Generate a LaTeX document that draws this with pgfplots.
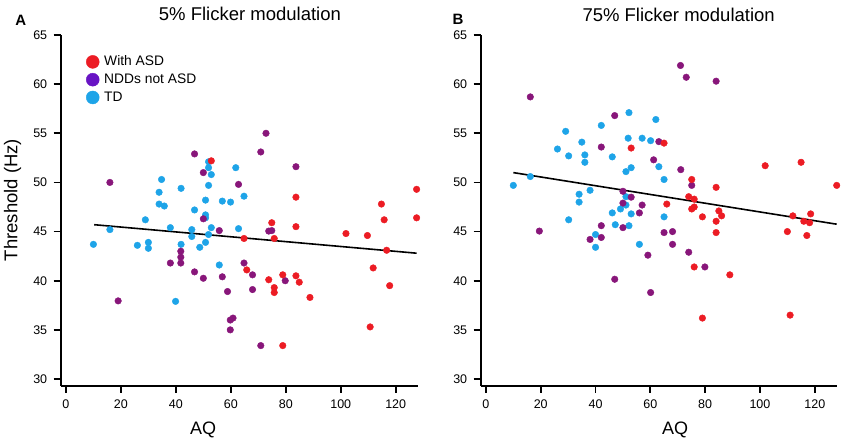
\documentclass[border=0pt]{standalone}
\usepackage{pgfplots}
\pgfplotsset{compat=1.18}
\usepackage{pgfplotstable}
\usepackage{fontspec}
\setmainfont{Liberation Sans}
\definecolor{asd}{RGB}{236,28,36}
\definecolor{ndd}{RGB}{136,22,122}
\definecolor{nddleg}{RGB}{104,20,196}
\definecolor{td}{RGB}{30,164,232}

\pgfplotstableread{
x y
10 43.7
16 45.2
26 43.6
28.9 46.2
30 43.9
30 43.3
33.9 49.0
33.9 47.8
35.8 47.6
34.8 50.3
38 45.4
41.9 49.4
41.9 43.7
39.9 37.9
46.8 47.2
45.8 45.2
45.8 44.5
48.7 43.4
50.8 48.2
50.8 46.7
50.8 46.4
50.8 43.9
51.9 52.1
51.9 51.5
52.9 50.8
51.9 49.7
52.9 45.4
51.9 44.7
55.8 41.6
56.9 48.1
59.9 48.0
61.8 51.5
62.8 45.3
64.8 48.6
}\tdA
\pgfplotstableread{
x y
16 50.0
19 37.95
46.8 52.9
50 51.0
50 46.3
41.8 43.0
41.8 42.4
41.8 41.8
38 41.8
46.8 40.9
50 40.25
55.8 45.1
56.9 40.4
58.8 38.9
59.8 36.0
60.8 36.2
59.8 35.0
62.8 49.8
64.8 41.8
67.9 40.6
67.9 39.1
70.9 53.1
72.8 55.0
73.8 45.05
74.9 45.1
70.9 33.4
79.8 40.0
83.7 51.6
}\nddA
\pgfplotstableread{
x y
52.9 52.2
64.8 44.3
65.8 41.1
74.9 45.9
75.8 44.3
73.8 40.1
75.8 39.3
75.8 38.8
78.9 40.6
78.9 33.4
83.7 48.5
83.7 45.5
83.7 40.5
84.9 39.85
88.8 38.3
101.9 44.8
109.7 44.6
111.8 41.3
110.7 35.3
114.8 47.8
115.8 46.2
116.7 43.1
117.8 39.5
127.6 49.3
127.6 46.4
}\asdA
\pgfplotstableread{
x y
10 49.7
16.2 50.6
26.1 53.4
29.1 55.2
30.2 52.7
30.2 46.2
35 54.1
36.1 52.8
36.1 52.05
34 48.8
34 48.0
38 49.2
42.1 55.8
40 44.7
40 43.4
46.1 52.6
46.1 46.9
47.2 45.7
49.1 47.3
52.2 57.1
51.9 54.5
51.1 51.1
53 51.5
51.1 48.55
51.1 47.7
53 46.8
52.2 45.6
57 54.5
60.1 54.25
56 43.7
62 56.4
63.1 51.6
65 50.3
65 46.5
}\tdB
\pgfplotstableread{
x y
16.2 58.7
19.5 45.05
47 56.8
42.1 53.6
42.1 45.6
42.1 44.4
38 44.2
47 40.15
50 49.1
50 47.9
50 45.4
53 48.5
56 46.9
57 47.7
59.1 42.6
60.1 38.8
61.2 52.3
63.1 54.15
65 44.9
68.1 45.0
68.1 43.7
71 61.9
71.1 51.3
73.1 60.7
74 42.9
75.1 49.7
79.9 41.4
84 60.3
}\nddB
\pgfplotstableread{
x y
53 53.5
65 54.0
66 47.8
75.1 50.3
74 48.55
75.1 47.3
76 47.5
76 48.3
76 41.4
79 46.5
79 36.2
84 49.5
84 46.05
84 44.9
85 47.1
86 46.6
89 40.6
101.9 51.7
110 45.0
111 36.5
112 46.6
115 52.05
116 46.05
117.1 44.6
118.1 45.9
118.5 46.8
128 49.7
}\asdB

\pgfplotsset{
  every axis title shift=0pt,
  panel/.style={
    scale only axis, width=357pt, height=350.5pt,
    axis lines=left, axis line style={-, line width=2pt},
    xmin=-1.9, xmax=128, ymin=29.34, ymax=65,
    xtick={0,20,...,120}, ytick={30,35,...,65},
    tick align=outside, major tick length=7pt,
    tick style={line width=1.8pt, black},
    ticklabel style={font=\fontsize{12.5}{14}\selectfont},
    /pgf/number format/assume math mode=true,
    xticklabel style={yshift=-4pt},
    yticklabel style={xshift=-3pt},
    title style={font=\fontsize{18.5}{20}\selectfont, anchor=center},
    xlabel style={font=\fontsize{18}{20}\selectfont, anchor=center},
    ylabel style={font=\fontsize{18.5}{20}\selectfont, anchor=center},
    clip=false,
  },
  pts/.style={only marks, mark=*, mark size=3.3pt, forget plot},
}

\begin{document}
\begin{tikzpicture}[x=1pt,y=1pt]
\useasboundingbox (0,0) rectangle (850,439);
\begin{axis}[panel, at={(60.7pt,53.5pt)}, anchor=south west,
  title={5\% Flicker modulation},
  title style={at={(axis description cs:0.530,1.060)}},
  xlabel={AQ}, xlabel style={at={(axis description cs:0.399,-0.127)}},
  ylabel={Threshold (Hz)}, ylabel style={at={(axis description cs:-0.1345,0.529)}},
  legend style={at={(axis description cs:0.071,0.946)}, anchor=north west,
    draw=none, fill=none, font=\fontsize{13.8}{16}\selectfont,
    row sep=2.3pt, column sep=3.5pt, inner sep=0pt,
    nodes={inner sep=1.5pt, text height=10pt, text depth=2.5pt}},
  legend cell align=left,
]
\addlegendimage{only marks, mark=*, mark size=6.5pt, color=asd}
\addlegendentry{With ASD}
\addlegendimage{only marks, mark=*, mark size=6.5pt, color=nddleg}
\addlegendentry{NDDs not ASD}
\addlegendimage{only marks, mark=*, mark size=6.5pt, color=td}
\addlegendentry{TD}
\addplot[pts, color=td] table {\tdA};
\addplot[pts, color=ndd] table {\nddA};
\addplot[pts, color=asd] table {\asdA};
\addplot[black, line width=1.6pt, forget plot] coordinates {(10.3,45.7) (127.6,42.8)};
\node[font=\bfseries\fontsize{15}{17}\selectfont] at (axis description cs:-0.112,1.043) {A};
\end{axis}
\begin{axis}[panel, at={(480.7pt,53.5pt)}, anchor=south west, width=356pt,
  title={75\% Flicker modulation},
  title style={at={(axis description cs:0.556,1.057)}},
  xlabel={AQ}, xlabel style={at={(axis description cs:0.546,-0.127)}},
]
\addplot[pts, color=td] table {\tdB};
\addplot[pts, color=ndd] table {\nddB};
\addplot[pts, color=asd] table {\asdB};
\addplot[black, line width=1.6pt, forget plot] coordinates {(10,51.0) (128,45.75)};
\node[font=\bfseries\fontsize{15}{17}\selectfont] at (axis description cs:-0.0638,1.045) {B};
\end{axis}
\end{tikzpicture}
\end{document}
